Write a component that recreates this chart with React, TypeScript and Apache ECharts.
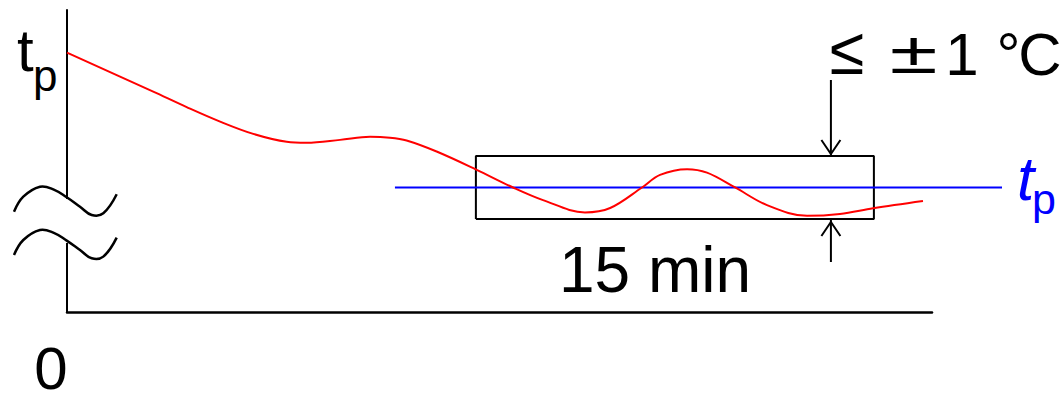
import React, { useEffect, useRef } from "react";
import * as echarts from "echarts";

// time (min) and temperature deviation from set point (°C) of the red curve
const timeMin = [0, 3.25, 4.51, 5.77, 7.02, 8.28, 9.03, 10.29, 11.42, 12.17, 12.8, 13.93, 15.44, 16.81, 17.94, 19.52, 20.47, 21.67, 22.35, 23.37, 24.12, 25.18, 26.38, 27.89, 29.13, 30.38, 32.26];
const tempDev = [4.28, 3.04, 2.55, 2.09, 1.7, 1.45, 1.42, 1.51, 1.61, 1.58, 1.49, 1.14, 0.56, 0, -0.4, -0.79, -0.65, 0, 0.4, 0.58, 0.47, 0, -0.56, -0.9, -0.84, -0.66, -0.43];
const setpoint = 0;
const setpointExtent = [12.36, 35.24];
const tolerance = 1;
const windowStart = 15.41;
const windowLength = 15;
const arrowAt = 28.79;
const xMax = 32.6;
const xMaxWide = 35.24;
const yMin = -3.95;
const yMax = 5.63;

const FONT = '"Liberation Sans", Arial, sans-serif';

export default function App() {
  const ref = useRef<HTMLDivElement>(null);
  useEffect(() => {
    if (!ref.current) return;
    const chart = echarts.init(ref.current, null, { renderer: "svg" });
    const curve = timeMin.map((t, i) => [t, tempDev[i]]);
    const wEnd = windowStart + windowLength;
    const box = [
      [windowStart, setpoint - tolerance],
      [wEnd, setpoint - tolerance],
      [wEnd, setpoint + tolerance],
      [windowStart, setpoint + tolerance],
      [windowStart, setpoint - tolerance],
    ];
    const hiddenAxis = { show: false, axisLine: { show: false }, axisTick: { show: false }, axisLabel: { show: false }, splitLine: { show: false } };
    chart.setOption({
      animation: false,
      grid: [
        { left: 67, right: 131, top: 10, bottom: 90, outerBoundsMode: "none" },
        { left: 67, right: 61, top: 10, bottom: 90, outerBoundsMode: "none" },
      ],
      xAxis: [
        {
          type: "value", min: 0, max: xMax, gridIndex: 0,
          axisLine: { show: true, onZero: false, lineStyle: { color: "#000", width: 2.5 } },
          axisTick: { show: false }, axisLabel: { show: false }, splitLine: { show: false },
        },
        { type: "value", min: 0, max: xMaxWide, gridIndex: 1, ...hiddenAxis },
      ],
      yAxis: [
        {
          type: "value", min: yMin, max: yMax, gridIndex: 0,
          axisLine: { show: true, onZero: false, lineStyle: { color: "#000", width: 2 } },
          axisTick: { show: false }, axisLabel: { show: false }, splitLine: { show: false },
        },
        { type: "value", min: yMin, max: yMax, gridIndex: 1, ...hiddenAxis },
      ],
      series: [
        {
          type: "line", data: box, showSymbol: false, z: 2,
          lineStyle: { color: "#000", width: 2 },
        },
        {
          type: "line", xAxisIndex: 1, yAxisIndex: 1, data: setpointExtent.map((x) => [x, setpoint]), showSymbol: false, z: 3,
          lineStyle: { color: "#0000ff", width: 2 },
        },
        {
          type: "line", data: curve, smooth: 0.35, showSymbol: false, z: 4,
          lineStyle: { color: "#ff0000", width: 2 },
        },
      ],
    });

    const px = (x: number, y: number) => chart.convertToPixel({ gridIndex: 0 }, [x, y]) as number[];
    const top = px(arrowAt, setpoint + tolerance);
    const bot = px(arrowAt, setpoint - tolerance);
    const ax = top[0];

    const wave = (dy: number) => ({
      type: "polyline", z: 100,
      shape: {
        smooth: 0.4,
        points: [[14, 211.7], [23.3, 196.7], [40, 186.7], [53.3, 189.3], [66.7, 197.3], [80, 206.7], [91.7, 215], [103.3, 213.3], [116.7, 194.3]].map((p) => [p[0], p[1] + dy]),
      },
      style: { stroke: "#000", lineWidth: 2.5, fill: null },
    });
    const txt = (text: string, x: number, y: number, size: number, align: string, color = "#000", style = "normal", sx = 1, sy = 1) => ({
      type: "text", z: 100, x, y, scaleX: sx, scaleY: sy,
      style: {
        text, x: 0, y: 0, fill: color, textAlign: align, textVerticalAlign: "middle",
        font: `${style} normal ${size}px ${FONT}`,
      },
    });
    const arrowStyle = { stroke: "#000", lineWidth: 2, fill: null };

    chart.setOption({
      graphic: [
        { type: "rect", z: 90, shape: { x: 60, y: 199, width: 14, height: 44 }, style: { fill: "#fff" } },
        wave(0),
        wave(43.3),
        // upper arrow
        { type: "line", z: 100, shape: { x1: ax, y1: 80, x2: ax, y2: top[1] - 1 }, style: arrowStyle },
        { type: "polyline", z: 100, shape: { points: [[ax - 9.5, top[1] - 16], [ax, top[1] - 2], [ax + 9.5, top[1] - 16]] }, style: arrowStyle },
        // lower arrow
        { type: "line", z: 100, shape: { x1: ax, y1: bot[1] + 1, x2: ax, y2: 262 }, style: arrowStyle },
        { type: "polyline", z: 100, shape: { points: [[ax - 9.5, bot[1] + 17], [ax, bot[1] + 3], [ax + 9.5, bot[1] + 17]] }, style: arrowStyle },
        // texts
        txt("t", 17, 50.5, 60, "left"),
        txt("p", 33, 75.6, 44, "left"),
        txt("0", 51, 368, 60, "center"),
        txt("15 min", 655, 269.6, 64, "center"),
        txt("≤", 847, 51, 60, "center", "#000", "normal", 1.05, 1.12),
        txt("±", 913.5, 52, 60, "center", "#000", "normal", 1.45, 1.0),
        txt("1", 962, 54, 60, "center"),
        txt("°", 1008.5, 54, 60, "center"),
        txt("C", 1040, 54, 60, "center"),
        txt("t", 1017, 178, 62, "left", "#0000ff", "italic"),
        txt("p", 1032, 199, 43, "left", "#0000ff"),
      ],
    });
    return () => chart.dispose();
  }, []);
  return <div ref={ref} style={{ position: "absolute", left: 0, top: 0, width: 1063, height: 402 }} />;
}
